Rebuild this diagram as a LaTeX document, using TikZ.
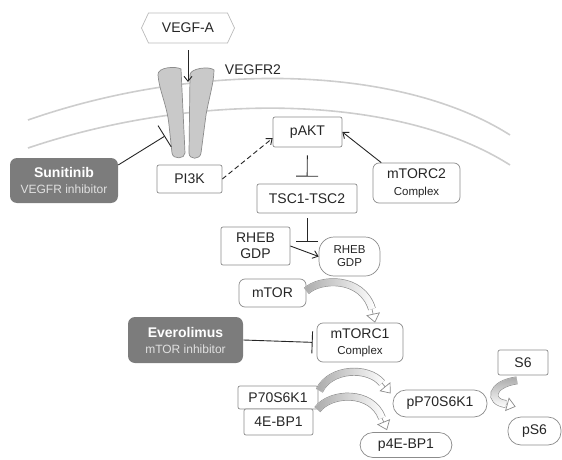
\documentclass[tikz,border=0pt]{standalone}
\usepackage{fontspec}
\setmainfont{Liberation Sans}
\usetikzlibrary{arrows.meta,shapes.symbols,fadings,calc}
\definecolor{ink}{HTML}{262626}
\definecolor{rim}{HTML}{8C8C8C}
\definecolor{memb}{HTML}{CDCDCD}
\definecolor{drug}{HTML}{7C7C7C}
\definecolor{recp}{HTML}{C9C9C9}
\tikzfading[name=fade right,left color=transparent!0,right color=transparent!100]
\tikzfading[name=fade down,top color=transparent!0,bottom color=transparent!100]
\newcommand\cpx[1]{{\fontsize{11.5}{13}\selectfont #1}}
\newcommand\druglbl[1]{{\color{white!88!black}\fontsize{12}{14}\selectfont #1}}
% #1 fading, #2 start, #3 #4 controls, #5 end of band, #6 tip
\newcommand\bigarrow[6]{%
 \draw[rim,double=white,double distance=6.5pt] #2 .. controls #3 and #4 .. #5;
 \draw[recp!85!black,line width=6.6pt,path fading=#1] #2 .. controls #3 and #4 .. #5;
 \draw[rim,-{Triangle[fill=white,length=9pt,width=14pt]}] #5 -- #6;}
\begin{document}
\begin{tikzpicture}[x=1pt,y=-1pt,line width=.7pt,
 font=\fontsize{14}{16}\selectfont,text=ink,
 box/.style={draw=rim,fill=white,rounded corners=2pt,inner sep=0pt,align=center},
 soft/.style={box,rounded corners=6pt},
 pill/.style={box,rounded corners=13pt},
 drugbox/.style={fill=drug,rounded corners=7pt,text=white,inner sep=0pt,align=center},
 hexa/.style={draw=rim!60,signal,signal to=west and east,signal pointer angle=130,inner sep=0pt},
 arr/.style={ink,line width=.9pt,-{Straight Barb[length=5pt,width=8pt]}},
 inh/.style={ink,line width=.9pt,-{Bar[width=22pt]}}]
 \useasboundingbox (0,0) rectangle (562,460);
 % membrane
 \draw[memb,line width=1.6pt] (28,120) .. controls (200,60) and (400,65) .. (510,135);
 \draw[memb,line width=1.6pt] (28,148) .. controls (200,90) and (400,95) .. (510,165);
 % receptor
 \filldraw[fill=recp,draw=rim] (158,75) .. controls (157,67) and (176,66) .. (181,69)
 -- (185,153) .. controls (185,159) and (173,160) .. (172,153)
 -- (169,125) .. controls (167,105) and (159,90) .. (158,75) -- cycle;
 \filldraw[fill=recp,draw=rim] (190,75) .. controls (190,68) and (210,66) .. (214,70)
 .. controls (214,82) and (209,98) .. (206,115)
 -- (201,153) .. controls (200,160) and (189,160) .. (189,153) -- cycle;
 \coordinate (dock) at (188,82);
 \coordinate (rcp) at (165,136);
 \coordinate (cnv) at (307,242);
 \path
 (188,28) node[hexa,minimum width=93pt,minimum height=30pt] (VEGFA) {VEGF-A}
 (253,70) node (VEGFR) {VEGFR2}
 (64,180.5) node[drugbox,minimum width=108pt,minimum height=45pt] (Sun)
 {\textbf{Sunitinib}\\\druglbl{VEGFR inhibitor}}
 (189.5,179) node[box,minimum width=65pt,minimum height=28pt] (PI3K) {PI3K}
 (307.5,132) node[box,minimum width=69pt,minimum height=30pt] (pAKT) {pAKT}
 (416.5,183) node[soft,minimum width=87pt,minimum height=40pt] (mTORC2) {mTORC2\\[1pt]\cpx{Complex}}
 (307,198.5) node[box,minimum width=100pt,minimum height=29pt] (TSC) {TSC1-TSC2}
 (255.5,246) node[box,minimum width=69pt,minimum height=38pt] (RHEBa) {RHEB\\GDP}
 (349.5,256.5) node[box,rounded corners=15pt,minimum width=61pt,minimum height=39pt,
 font=\fontsize{11.5}{13}\selectfont] (RHEBb) {RHEB\\GDP}
 (272.5,293) node[soft,minimum width=67pt,minimum height=28pt] (mTOR) {mTOR}
 (360,342.5) node[soft,minimum width=86pt,minimum height=39pt] (mTORC1) {mTORC1\\\cpx{Complex}}
 (185.5,340) node[drugbox,minimum width=115pt,minimum height=46pt] (Evero)
 {\textbf{Everolimus}\\\druglbl{mTOR inhibitor}}
 (278,397.5) node[box,minimum width=80pt,minimum height=23pt] (P70) {P70S6K1}
 (278.5,422) node[box,minimum width=69pt,minimum height=26pt] (EBP) {4E-BP1}
 (440,403.5) node[pill,minimum width=94pt,minimum height=27pt] (pP70) {pP70S6K1}
 (406,445) node[pill,minimum width=92pt,minimum height=25pt] (pEBP) {p4E-BP1}
 (523,362.5) node[box,minimum width=50pt,minimum height=25pt] (S6) {S6}
 (534.5,431) node[pill,minimum width=53pt,minimum height=28pt] (pS6) {pS6};
 \draw[arr,shorten <=7pt] (VEGFA.south) -- (dock);
 \draw[arr,dash pattern=on 5pt off 3pt] (PI3K.east) -- (pAKT.190);
 \draw[arr] (mTORC2.150) -- (pAKT.east);
 \draw[arr] (RHEBa.east) -- (RHEBb.west);
 \begin{scope}[inh]
 \draw[-{Bar[width=25pt]}] (Sun.16) -- (rcp);
 \draw[shorten <=8pt,shorten >=7pt] (pAKT) -- (TSC);
 \draw[shorten <=5pt] (TSC) -- (cnv);
 \draw[shorten >=4pt] (Evero.east) -- (mTORC1.west);
 \end{scope}
 \bigarrow{fade right}{($(mTOR.east)+(0,-2)$)}{(320,278)}{(362,276)}{(372,309)}{($(mTORC1.north)+(15,0)$)}
 \bigarrow{fade right}{($(P70.north east)+(1,5)$)}{(330,368)}{(368,366)}{(382,383)}{($(pP70.west)+(-2,-10)$)}
 \bigarrow{fade right}{($(EBP.north east)+(4,1)$)}{(330,392)}{(372,390)}{(382,418)}{($(pEBP.north)+(-19,-2)$)}
 \bigarrow{fade down}{($(S6.south)+(-6,5)$)}{(490,384)}{(488,402)}{(506,404)}{($(pS6.north west)+(8,-10)$)}
\end{tikzpicture}
\end{document}
